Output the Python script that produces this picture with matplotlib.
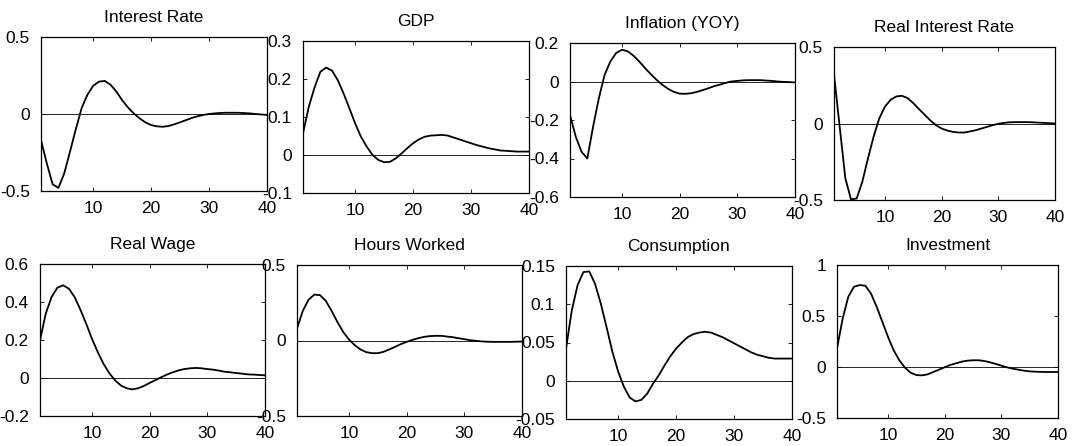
import matplotlib
matplotlib.use("Agg")
import matplotlib.pyplot as plt
from matplotlib.ticker import FuncFormatter
import numpy as np

plt.rcParams['font.family'] = ['Liberation Sans', 'DejaVu Sans']
plt.rcParams['axes.unicode_minus'] = False

periods = np.arange(1, 41)

titles = ["Interest Rate", "GDP", "Inflation (YOY)", "Real Interest Rate",
          "Real Wage", "Hours Worked", "Consumption", "Investment"]

interest_rate = [-0.17, -0.32, -0.456, -0.48, -0.387, -0.245, -0.10, 0.037, 0.124, 0.183,
                 0.21, 0.215, 0.19, 0.146, 0.09, 0.043, 0.004, -0.028, -0.054, -0.072,
                 -0.08, -0.083, -0.078, -0.067, -0.054, -0.04, -0.026, -0.015, -0.006, 0.0,
                 0.004, 0.007, 0.008, 0.008, 0.008, 0.006, 0.004, 0.0, -0.003, -0.006]
gdp = [0.057, 0.127, 0.178, 0.219, 0.23, 0.222, 0.197, 0.162, 0.123, 0.083,
       0.048, 0.022, 0.0, -0.013, -0.019, -0.018, -0.009, 0.004, 0.018, 0.031,
       0.041, 0.048, 0.051, 0.052, 0.053, 0.051, 0.046, 0.041, 0.036, 0.031,
       0.026, 0.022, 0.018, 0.015, 0.012, 0.011, 0.010, 0.009, 0.009, 0.009]
inflation = [-0.174, -0.287, -0.365, -0.40, -0.235, -0.087, 0.035, 0.104, 0.148, 0.165,
             0.157, 0.134, 0.104, 0.07, 0.038, 0.009, -0.017, -0.038, -0.054, -0.063,
             -0.064, -0.061, -0.054, -0.045, -0.035, -0.024, -0.016, -0.007, 0.0, 0.003,
             0.006, 0.007, 0.007, 0.007, 0.005, 0.003, 0.0, -0.002, -0.003, -0.005]
real_rate = [0.32, -0.02, -0.358, -0.496, -0.49, -0.38, -0.227, -0.085, 0.035, 0.111,
             0.155, 0.177, 0.181, 0.166, 0.133, 0.094, 0.057, 0.02, -0.011, -0.033,
             -0.046, -0.055, -0.059, -0.059, -0.052, -0.044, -0.033, -0.022, -0.011, -0.002,
             0.004, 0.008, 0.009, 0.009, 0.009, 0.008, 0.006, 0.004, 0.002, 0.0]
real_wage = [0.198, 0.339, 0.426, 0.475, 0.488, 0.47, 0.426, 0.36, 0.286, 0.207,
             0.137, 0.075, 0.026, -0.012, -0.039, -0.054, -0.06, -0.054, -0.042, -0.026,
             -0.011, 0.004, 0.018, 0.03, 0.04, 0.047, 0.051, 0.053, 0.051, 0.047,
             0.044, 0.039, 0.033, 0.03, 0.026, 0.023, 0.019, 0.018, 0.016, 0.014]
hours = [0.079, 0.196, 0.27, 0.304, 0.30, 0.262, 0.196, 0.123, 0.057, 0.007,
         -0.031, -0.059, -0.077, -0.084, -0.084, -0.075, -0.059, -0.042, -0.024, -0.009,
         0.004, 0.015, 0.024, 0.029, 0.031, 0.031, 0.026, 0.022, 0.015, 0.009,
         0.002, -0.002, -0.006, -0.008, -0.009, -0.009, -0.009, -0.009, -0.008, -0.007]
consumption = [0.042, 0.092, 0.125, 0.142, 0.143, 0.127, 0.101, 0.07, 0.038, 0.012,
               -0.008, -0.022, -0.027, -0.025, -0.017, -0.004, 0.007, 0.02, 0.032, 0.042,
               0.05, 0.057, 0.061, 0.063, 0.064, 0.063, 0.06, 0.057, 0.053, 0.049,
               0.045, 0.041, 0.037, 0.034, 0.032, 0.030, 0.029, 0.029, 0.029, 0.029]
investment = [0.18, 0.475, 0.69, 0.787, 0.803, 0.797, 0.72, 0.59, 0.443, 0.295,
              0.164, 0.066, -0.007, -0.056, -0.079, -0.082, -0.072, -0.049, -0.026, -0.003,
              0.02, 0.036, 0.052, 0.062, 0.066, 0.066, 0.059, 0.046, 0.03, 0.013,
              -0.003, -0.016, -0.026, -0.036, -0.043, -0.046, -0.048, -0.049, -0.049, -0.049]

series = [interest_rate, gdp, inflation, real_rate, real_wage, hours, consumption, investment]

ylims = [(-0.5, 0.5), (-0.1, 0.3), (-0.6, 0.2), (-0.5, 0.5),
         (-0.2, 0.6), (-0.5, 0.5), (-0.05, 0.15), (-0.5, 1.0)]
yticks = [[-0.5, 0, 0.5], [-0.1, 0, 0.1, 0.2, 0.3], [-0.6, -0.4, -0.2, 0, 0.2], [-0.5, 0, 0.5],
          [-0.2, 0, 0.2, 0.4, 0.6], [-0.5, 0, 0.5], [-0.05, 0, 0.05, 0.1, 0.15], [-0.5, 0, 0.5, 1]]

# pixel boxes (left, right, top, bottom) of each panel
W, H = 1072, 446
boxes = [(41, 267, 37, 191), (303, 529, 41, 193), (570, 795, 43, 197), (834, 1055, 47, 200),
         (40, 265, 264, 416), (297, 522, 265, 416), (566, 792, 266, 419), (837, 1058, 265, 418)]

fig = plt.figure(figsize=(W / 100, H / 100), dpi=100)
fmt = FuncFormatter(lambda v, p: "0" if abs(v) < 1e-12 else f"{v:g}")

for i in range(8):
    l, r, t, b = boxes[i]
    ax = fig.add_axes([l / W, 1 - b / H, (r - l) / W, (b - t) / H])
    ax.axhline(0, color="black", linewidth=0.6)
    ax.plot(periods, series[i], color="black", linewidth=1.3)
    ax.set_xlim(1, 40)
    ax.set_ylim(*ylims[i])
    ax.set_xticks([10, 20, 30, 40])
    ax.set_yticks(yticks[i])
    ax.yaxis.set_major_formatter(fmt)
    ax.tick_params(direction="in", length=3, width=0.6, labelsize=12.5,
                   top=True, right=True)
    ax.tick_params(axis="x", pad=7.5)
    ax.tick_params(axis="y", pad=8)
    for s in ax.spines.values():
        s.set_linewidth(0.9)
    ax.set_title(titles[i], fontsize=12.5, pad=10.5)

fig.savefig("out.png", dpi=100)
